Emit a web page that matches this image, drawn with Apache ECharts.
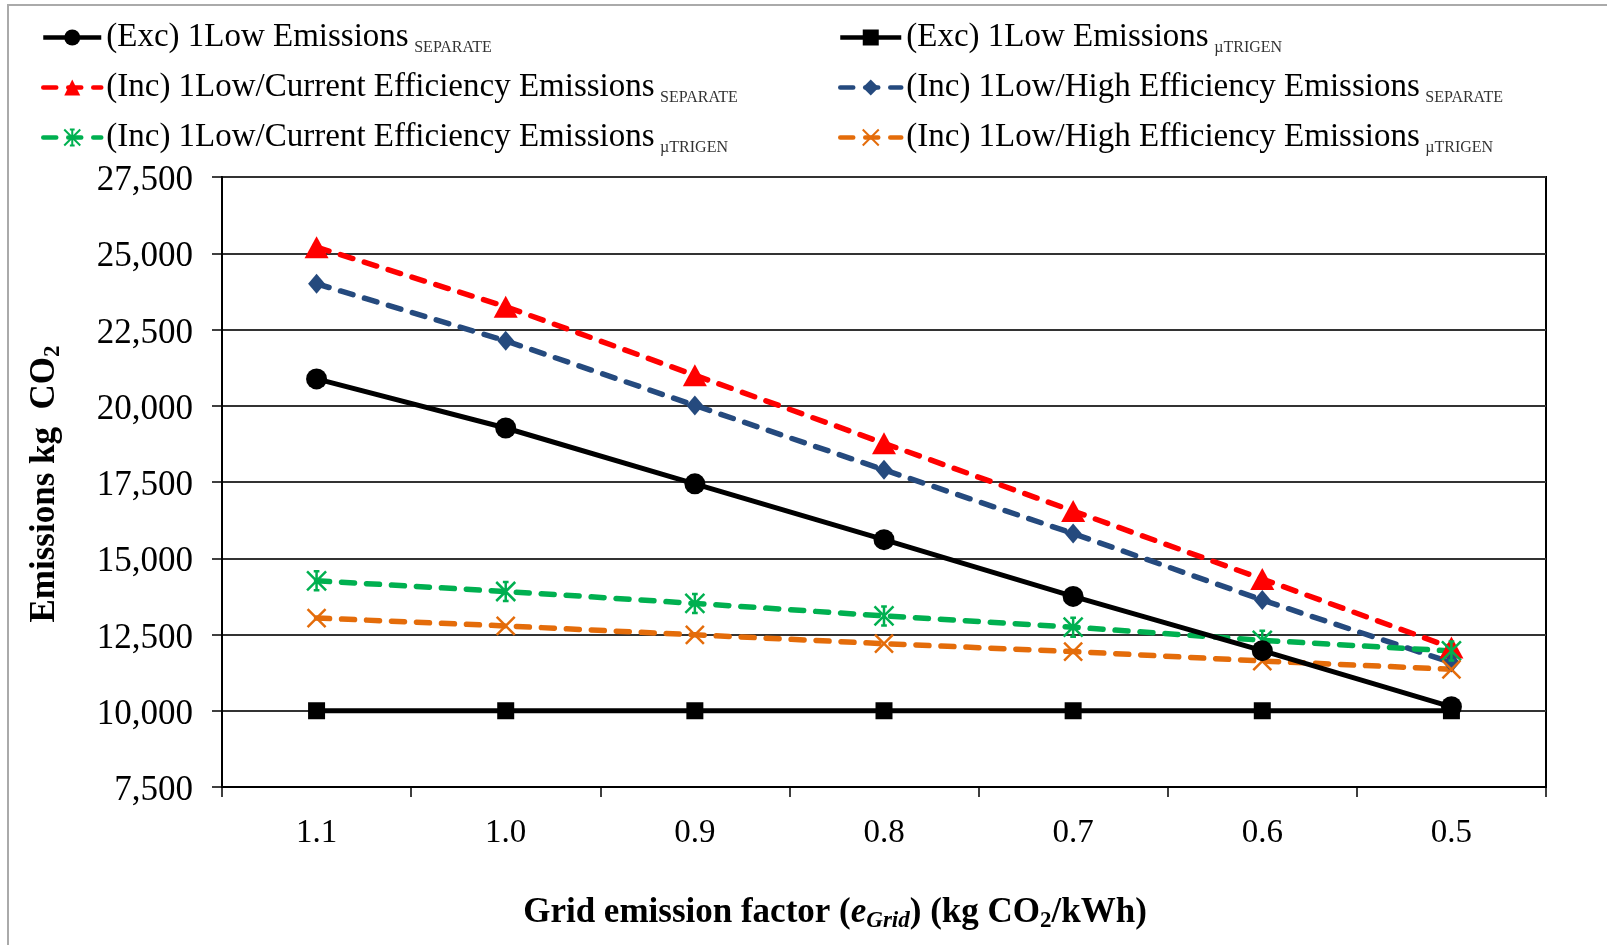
<!DOCTYPE html>
<html>
<head>
<meta charset="utf-8">
<script src="https://cdn.jsdelivr.net/npm/echarts@6/dist/echarts.min.js"></script>
<style>
  html, body { margin: 0; padding: 0; background: #fff; }
  #chart { width: 1607px; height: 945px; }
</style>
</head>
<body>
<div id="chart"></div>
<script>
// grid emission factor (kg CO2/kWh)
var categories = ['1.1', '1.0', '0.9', '0.8', '0.7', '0.6', '0.5'];
var yTicks = [7500, 27500, 2500]; // min, max, step

var excSeparate = [20880, 19270, 17440, 15610, 13750, 11970, 10130];
var excTrigen = [10000, 10000, 10000, 10000, 10000, 10000, 10000];
var incCurSeparate = [25200, 23250, 21000, 18770, 16550, 14320, 12070];
var incHighSeparate = [24000, 22130, 20010, 17900, 15810, 13630, 11580];
var incCurTrigen = [14260, 13910, 13520, 13110, 12740, 12310, 11960];
var incHighTrigen = [13040, 12780, 12490, 12200, 11940, 11630, 11360];

var FONT = "'Liberation Serif', 'Times New Roman', serif";

var names = {
    s1: '(Exc) 1Low Emissions|SEPARATE',
    s2: '(Exc) 1Low Emissions|µTRIGEN',
    s3: '(Inc) 1Low/Current Efficiency Emissions|SEPARATE',
    s4: '(Inc) 1Low/High Efficiency Emissions|SEPARATE',
    s5: '(Inc) 1Low/Current Efficiency Emissions|µTRIGEN',
    s6: '(Inc) 1Low/High Efficiency Emissions|µTRIGEN'
};

function legendLabel(name) {
    var parts = name.split('|');
    return '{a|' + parts[0] + '}{g| }{b|' + parts[1] + '}';
}

var legendBase = {
    orient: 'vertical',
    top: 21,
    padding: 0,
    itemHeight: 20,
    itemGap: 15.5,
    formatter: legendLabel,
    selectedMode: false,
    lineStyle: { width: 4.5 },
    textStyle: {
        rich: {
            a: { fontFamily: FONT, fontSize: 33, lineHeight: 36, color: '#000' },
            g: { fontFamily: FONT, fontSize: 22, lineHeight: 36, color: '#000' },
            b: { fontFamily: FONT, fontSize: 16, lineHeight: 28, verticalAlign: 'bottom', color: '#333' }
        }
    }
};

function dashed(color) {
    return { color: color, width: 5.5, type: [13, 12], cap: 'round' };
}

var dom = document.getElementById('chart');
var myChart = echarts.init(dom, null, { renderer: 'canvas' });

var option = {
    backgroundColor: '#fff',
    animation: false,
    graphic: [{
        type: 'rect',
        shape: { x: 8, y: 5, width: 1640, height: 980 },
        style: { fill: 'none', stroke: '#aaa', lineWidth: 2 },
        silent: true
    }],
    legend: [
        Object.assign({}, legendBase, { left: 41, itemWidth: 58, data: [names.s1, names.s3, names.s5] }),
        Object.assign({}, legendBase, { left: 838, itemWidth: 61, data: [names.s2, names.s4, names.s6] })
    ],
    grid: {
        left: 222,
        right: 61,
        top: 177,
        bottom: 158,
        show: true,
        borderColor: '#000',
        borderWidth: 2,
        backgroundColor: 'transparent'
    },
    xAxis: {
        type: 'category',
        data: categories,
        boundaryGap: true,
        axisLine: { lineStyle: { color: '#000', width: 2 } },
        axisTick: { show: true, interval: 0, length: 10, lineStyle: { color: '#000', width: 1.5 } },
        axisLabel: { fontFamily: FONT, fontSize: 33, color: '#000', margin: 30, interval: 0 },
        splitLine: { show: false },
        name: '{b|Grid emission factor (}{i|e}{s|Grid}{b|) (kg CO}{t|2}{b|/kWh)}',
        nameLocation: 'middle',
        nameGap: 106,
        nameTextStyle: {
            padding: [0, 98, 0, 0],
            rich: {
                b: { fontFamily: FONT, fontSize: 35, fontWeight: 'bold', color: '#000', lineHeight: 40 },
                i: { fontFamily: FONT, fontSize: 35, fontWeight: 'bold', fontStyle: 'italic', color: '#000', lineHeight: 40 },
                s: { fontFamily: FONT, fontSize: 23, fontWeight: 'bold', fontStyle: 'italic', color: '#000', lineHeight: 22, verticalAlign: 'bottom' },
                t: { fontFamily: FONT, fontSize: 23, fontWeight: 'bold', color: '#000', lineHeight: 22, verticalAlign: 'bottom' }
            }
        }
    },
    yAxis: {
        type: 'value',
        min: yTicks[0],
        max: yTicks[1],
        interval: yTicks[2],
        axisLine: { show: true, lineStyle: { color: '#000', width: 2 } },
        axisTick: { show: true, length: 10, lineStyle: { color: '#000', width: 1.5 } },
        axisLabel: {
            fontFamily: FONT,
            fontSize: 35,
            color: '#000',
            margin: 29,
            verticalAlign: 'top',
            lineHeight: 8,
            formatter: function (v) { return v.toLocaleString('en-US'); }
        },
        splitLine: { show: true, lineStyle: { color: '#333', width: 2 } },
        name: '{a|Emissions kg  CO}{s|2}',
        nameLocation: 'middle',
        nameRotate: 90,
        nameGap: 157,
        nameTextStyle: {
            padding: [0, 4, 0, 0],
            rich: {
                a: { fontFamily: FONT, fontSize: 35, fontWeight: 'bold', color: '#000', lineHeight: 40 },
                s: { fontFamily: FONT, fontSize: 23, fontWeight: 'bold', color: '#000', lineHeight: 22, verticalAlign: 'bottom' }
            }
        }
    },
    series: [
        {
            name: names.s3,
            type: 'line',
            data: incCurSeparate,
            symbol: 'triangle',
            symbolSize: [24, 22],
            itemStyle: { color: '#ff0000' },
            lineStyle: dashed('#ff0000'),
            z: 3
        },
        {
            name: names.s4,
            type: 'line',
            data: incHighSeparate,
            symbol: 'diamond',
            symbolSize: [17, 20],
            itemStyle: { color: '#254a7e' },
            lineStyle: dashed('#254a7e'),
            z: 3
        },
        {
            name: names.s5,
            type: 'line',
            data: incCurTrigen,
            symbol: 'path://M0,0L10,10M10,0L0,10M5,0L5,10M3.5,0L6.5,0M3.5,10L6.5,10',
            symbolSize: 19,
            itemStyle: { color: 'rgba(0,0,0,0)', borderColor: '#00b050', borderWidth: 2.5 },
            lineStyle: dashed('#00b050'),
            z: 3
        },
        {
            name: names.s6,
            type: 'line',
            data: incHighTrigen,
            symbol: 'path://M0,0L10,10M10,0L0,10',
            symbolSize: 18,
            itemStyle: { color: 'rgba(0,0,0,0)', borderColor: '#e46c0a', borderWidth: 2.5 },
            lineStyle: dashed('#e46c0a'),
            z: 3
        },
        {
            name: names.s2,
            type: 'line',
            data: excTrigen,
            symbol: 'rect',
            symbolSize: 17,
            itemStyle: { color: '#000' },
            lineStyle: { color: '#000', width: 5 },
            z: 4
        },
        {
            name: names.s1,
            type: 'line',
            data: excSeparate,
            symbol: 'circle',
            symbolSize: 21,
            itemStyle: { color: '#000' },
            lineStyle: { color: '#000', width: 5 },
            z: 4
        }
    ]
};

if (option && typeof option === 'object') {
    myChart.setOption(option, true);
}
window.addEventListener('resize', function () {
    myChart.resize();
});
</script>
</body>
</html>
